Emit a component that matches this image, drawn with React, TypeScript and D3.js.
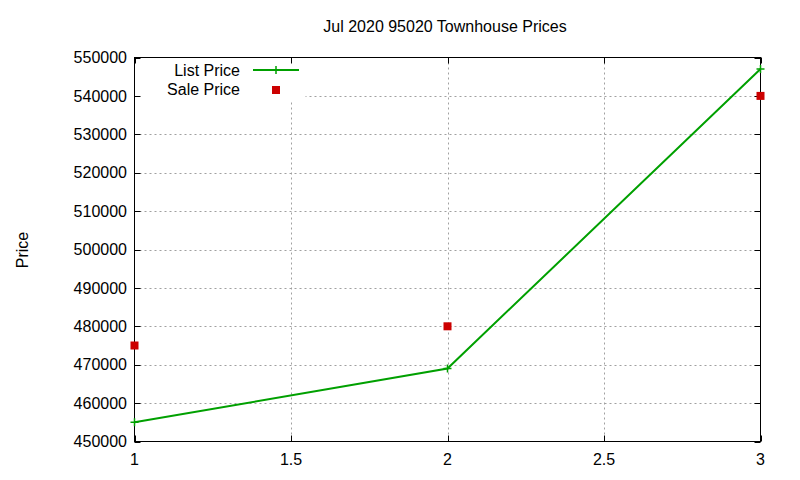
import { useEffect, useRef } from 'react'
import * as d3 from 'd3'

const xValues = [1, 2, 3]
const listPrice = [455000, 469000, 547000]
const salePrice = [475000, 480000, 540000]
const xTicks = [1, 1.5, 2, 2.5, 3]
const yTicks = [450000, 460000, 470000, 480000, 490000, 500000, 510000, 520000, 530000, 540000, 550000]

const GREEN = '#00a000'
const RED = '#cc0000'
const FONT = '"Liberation Sans", Arial, sans-serif'

export default function App() {
  const svgRef = useRef<SVGSVGElement>(null)

  useEffect(() => {
    if (!svgRef.current) return
    const svg = d3.select(svgRef.current)
    svg.selectAll('*').remove()

    const left = 134.5, right = 760.5, top = 57.5, bottom = 441.5

    const x = d3.scaleLinear().domain([1, 3]).range([left, right])
    const y = d3.scaleLinear().domain([450000, 550000]).range([bottom, top])

    svg.append('rect').attr('width', 800).attr('height', 480).attr('fill', '#fff')

    // grid
    const grid = svg.append('g').attr('stroke', '#a0a0a0').attr('stroke-width', 1).attr('stroke-dasharray', '2,3')
    xTicks.slice(1, -1).forEach(t => {
      grid.append('line').attr('x1', Math.round(x(t)) + 0.5).attr('x2', Math.round(x(t)) + 0.5).attr('y1', top).attr('y2', bottom)
    })
    yTicks.slice(1, -1).forEach(t => {
      grid.append('line').attr('y1', Math.round(y(t)) + 0.5).attr('y2', Math.round(y(t)) + 0.5).attr('x1', left).attr('x2', right)
    })

    // opaque key background
    svg.append('rect').attr('x', left + 1).attr('y', top + 1).attr('width', 170).attr('height', 42).attr('fill', '#fff')

    // border
    svg.append('rect').attr('x', left).attr('y', top).attr('width', right - left).attr('height', bottom - top)
      .attr('fill', 'none').attr('stroke', '#000').attr('stroke-width', 1)

    // ticks
    const ticks = svg.append('g').attr('stroke', '#000').attr('stroke-width', 1)
    xTicks.forEach(t => {
      const px = Math.round(x(t)) + 0.5
      ticks.append('line').attr('x1', px).attr('x2', px).attr('y1', bottom).attr('y2', bottom - 6)
      ticks.append('line').attr('x1', px).attr('x2', px).attr('y1', top).attr('y2', top + 6)
    })
    yTicks.forEach(t => {
      const py = Math.round(y(t)) + 0.5
      ticks.append('line').attr('y1', py).attr('y2', py).attr('x1', left).attr('x2', left + 6)
      ticks.append('line').attr('y1', py).attr('y2', py).attr('x1', right).attr('x2', right - 6)
    })

    // tick labels
    const labels = svg.append('g').attr('font-family', FONT).attr('font-size', 16).attr('fill', '#000')
    xTicks.forEach(t => {
      labels.append('text').attr('x', x(t)).attr('y', 459).attr('dy', '0.35em').attr('text-anchor', 'middle').text(String(t))
    })
    yTicks.forEach(t => {
      labels.append('text').attr('x', 127).attr('y', y(t)).attr('dy', '0.35em').attr('text-anchor', 'end').text(String(t))
    })

    // title and axis label
    svg.append('text').attr('x', 445).attr('y', 26).attr('dy', '0.35em').attr('text-anchor', 'middle')
      .attr('font-family', FONT).attr('font-size', 16).text('Jul 2020 95020 Townhouse Prices')
    svg.append('text').attr('transform', 'translate(22,250) rotate(-90)').attr('dy', '0.35em').attr('text-anchor', 'middle')
      .attr('font-family', FONT).attr('font-size', 16).text('Price')

    // list price line
    const listData = xValues.map((v, i) => [v, listPrice[i]] as [number, number])
    const line = d3.line<[number, number]>().x(d => x(d[0])).y(d => y(d[1]))
    svg.append('path').datum(listData).attr('fill', 'none').attr('stroke', GREEN).attr('stroke-width', 2).attr('d', line)
    const plus = (g: d3.Selection<SVGGElement, unknown, null, undefined>, cx: number, cy: number) => {
      g.append('path').attr('d', `M${cx - 4},${cy}H${cx + 4}M${cx},${cy - 4}V${cy + 4}`)
        .attr('stroke', GREEN).attr('stroke-width', 1.5).attr('fill', 'none')
    }
    const markers = svg.append('g')
    listData.forEach(d => plus(markers, x(d[0]), y(d[1])))

    // sale price points
    svg.append('g').selectAll('rect').data(xValues).join('rect')
      .attr('x', (d) => x(d) - 4).attr('y', (_d, i) => y(salePrice[i]) - 4)
      .attr('width', 8).attr('height', 8).attr('fill', RED)

    // legend
    const key = svg.append('g').attr('font-family', FONT).attr('font-size', 16)
    key.append('text').attr('x', 240).attr('y', 70).attr('dy', '0.35em').attr('text-anchor', 'end').text('List Price')
    key.append('line').attr('x1', 253).attr('x2', 299).attr('y1', 70).attr('y2', 70).attr('stroke', GREEN).attr('stroke-width', 2)
    plus(key as any, 276, 70)
    key.append('text').attr('x', 240).attr('y', 89).attr('dy', '0.35em').attr('text-anchor', 'end').text('Sale Price')
    key.append('rect').attr('x', 272).attr('y', 86).attr('width', 8).attr('height', 8).attr('fill', RED)
  }, [])

  return (
    <div style={{ position: 'absolute', left: 0, top: 0 }}>
      <svg ref={svgRef} width={800} height={480} style={{ display: 'block' }} />
    </div>
  )
}
